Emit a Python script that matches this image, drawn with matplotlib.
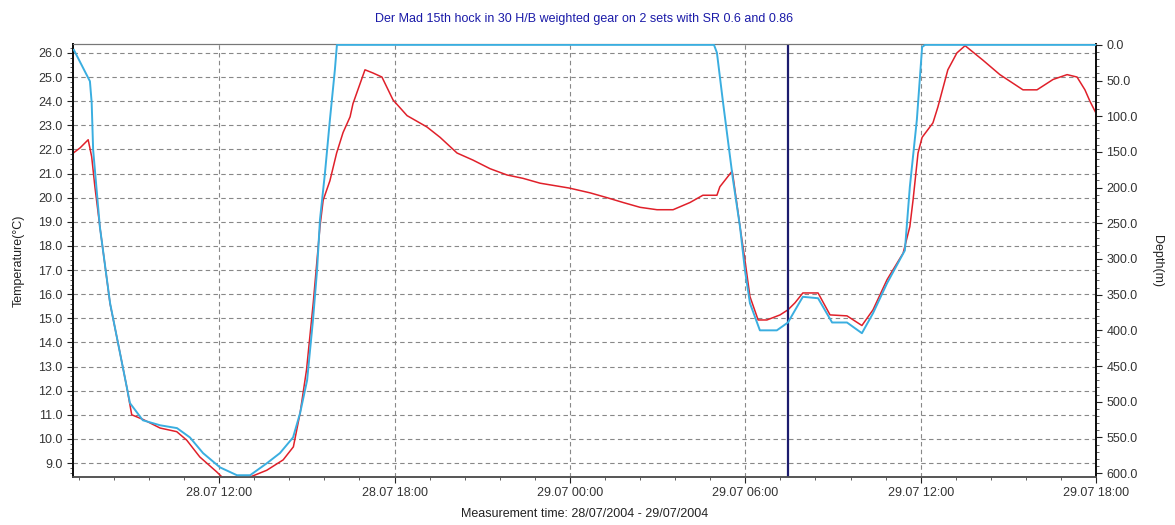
import pandas as pd
import matplotlib
matplotlib.use("Agg")
import matplotlib.pyplot as plt
import matplotlib.dates as mdates
from matplotlib.ticker import MultipleLocator, FormatStrFormatter

plt.rcParams["font.family"] = ["Liberation Sans", "DejaVu Sans"]

# hours after 28/07/2004 00:00
depth_hours = [7.03, 7.58, 7.64, 7.69, 7.92, 8.27, 8.61, 8.95, 9.39, 9.98, 10.56, 11.0,
               11.45, 12.03, 12.61, 13.06, 13.64, 14.08, 14.53, 14.77, 15.01, 15.21, 15.35,
               15.45, 15.62, 15.79, 15.96, 16.03, 28.93, 29.03, 29.24, 29.58, 29.82, 29.99,
               30.16, 30.5, 31.08, 31.46, 31.77, 31.97, 32.49, 32.97, 33.48, 33.99, 34.37,
               34.85, 35.46, 35.63, 35.87, 36.05, 36.15, 42.0]
depth_m = [7, 51, 81, 147, 255, 362, 432, 502, 526, 533, 537, 550,
           572, 592, 603, 603, 586, 572, 550, 516, 470, 386, 316,
           245, 180, 105, 35, 0, 0, 11, 81, 189, 255, 316,
           362, 400, 400, 389, 367, 353, 355, 389, 389, 404, 376,
           334, 288, 199, 105, 3, 0, 0]

temp_hours = [7.01, 7.24, 7.52, 7.64, 7.75, 7.92, 8.27, 8.61, 8.84, 9.01, 9.41, 9.98,
              10.55, 10.89, 11.34, 11.92, 12.2, 12.71, 13.06, 13.63, 14.19, 14.54, 14.77,
              14.99, 15.22, 15.45, 15.56, 15.79, 16.02, 16.24, 16.48, 16.58, 16.99, 17.26,
              17.57, 17.95, 18.43, 19.11, 19.56, 20.14, 20.68, 21.27, 21.85, 22.4, 22.98,
              23.97, 24.69, 25.27, 25.82, 26.4, 26.98, 27.53, 28.11, 28.55, 29.03, 29.13,
              29.55, 29.58, 29.82, 29.99, 30.16, 30.44, 30.74, 31.19, 31.46, 31.7, 31.97,
              32.49, 32.9, 33.48, 33.99, 34.37, 34.85, 35.4, 35.63, 35.74, 35.91, 36.05,
              36.42, 36.59, 36.93, 37.24, 37.52, 38.13, 38.71, 39.5, 39.98, 40.53, 41.01,
              41.35, 41.62, 41.79, 42.0]
temp_c = [21.85, 22.06, 22.4, 21.7, 20.45, 18.8, 15.6, 13.56, 12.15, 11.0, 10.8, 10.45,
          10.3, 9.95, 9.25, 8.63, 8.3, 8.2, 8.42, 8.7, 9.13, 9.67, 11.07,
          12.86, 15.64, 18.8, 19.9, 20.7, 21.85, 22.7, 23.35, 23.9, 25.3, 25.17,
          25.0, 24.05, 23.4, 22.93, 22.5, 21.85, 21.56, 21.2, 20.94, 20.8, 20.6,
          20.4, 20.2, 20.0, 19.8, 19.6, 19.5, 19.5, 19.8, 20.1, 20.1, 20.45,
          21.1, 20.9, 18.8, 17.4, 15.9, 14.93, 14.93, 15.14, 15.35, 15.64, 16.05,
          16.05, 15.14, 15.1, 14.7, 15.35, 16.6, 17.7, 18.8, 19.9, 21.85, 22.5,
          23.1, 23.76, 25.3, 26.0, 26.3, 25.7, 25.1, 24.47, 24.47, 24.9, 25.1,
          25.0, 24.47, 24.0, 23.5]

marker_hour = 31.46
title = "Der Mad 15th hock in 30 H/B weighted gear on 2 sets with SR 0.6 and 0.86"

base = pd.Timestamp("2004-07-28 00:00")
t_depth = base + pd.to_timedelta(depth_hours, unit="h")
t_temp = base + pd.to_timedelta(temp_hours, unit="h")
t_start = base + pd.Timedelta(hours=7)
t_end = base + pd.Timedelta(hours=42)

fig = plt.figure(figsize=(11.75, 5.25), dpi=100)
ax = fig.add_axes([0.0621, 0.0914, 0.8707, 0.8248])
ax2 = ax.twinx()

ax.plot(t_temp, temp_c, color="#e0202a", lw=1.1, zorder=3)
ax2.plot(t_depth, depth_m, color="#3aaee0", lw=1.4, zorder=3)
ax2.axvline(base + pd.Timedelta(hours=marker_hour), color="#1c1c6e", lw=1.6)

ax.xaxis.set_major_locator(mdates.HourLocator(byhour=[0, 6, 12, 18]))
ax.xaxis.set_major_formatter(mdates.DateFormatter("%d.%m %H:%M"))
minor = pd.date_range(base + pd.Timedelta(hours=6), t_end, freq="72min")
ax.set_xticks(mdates.date2num(minor), minor=True)
ax.set_xlim(t_start, t_end)

ax.yaxis.set_major_locator(MultipleLocator(1.0))
ax.yaxis.set_minor_locator(MultipleLocator(0.2))
ax.yaxis.set_major_formatter(FormatStrFormatter("%.1f"))
ax2.yaxis.set_major_locator(MultipleLocator(50))
ax2.yaxis.set_minor_locator(MultipleLocator(10))
ax2.yaxis.set_major_formatter(FormatStrFormatter("%.1f"))
ax.set_ylim(8.42, 26.37)
ax2.set_ylim(605.5, -1.2)

ax.grid(True, which="major", color="#888888", ls=(0, (4, 3)), lw=0.8)
ax.set_axisbelow(True)

for a in (ax, ax2):
    a.tick_params(which="major", direction="out", length=4, width=0.8,
                  labelsize=9, colors="#222222", labelcolor="#333333")
    a.tick_params(which="minor", direction="out", length=2.5, width=0.6, colors="#444444")
    for side in ("left", "right"):
        a.spines[side].set_linewidth(1.4)
        a.spines[side].set_color("#111111")
    a.spines["top"].set_color("#777777")
    a.spines["bottom"].set_color("#555555")
    a.spines["bottom"].set_linewidth(1.2)

ax.set_ylabel("Temperature(°C)", fontsize=9, color="#222222", labelpad=10)
ax2.set_ylabel("Depth(m)", fontsize=9, color="#222222", rotation=-90, labelpad=18)
ax.set_xlabel("Measurement time: 28/07/2004 - 29/07/2004", fontsize=9,
              color="#222222", labelpad=6)
ax.set_title(title, fontsize=9, color="#1a1aa8", pad=16)

fig.savefig("out.png", dpi=100)
